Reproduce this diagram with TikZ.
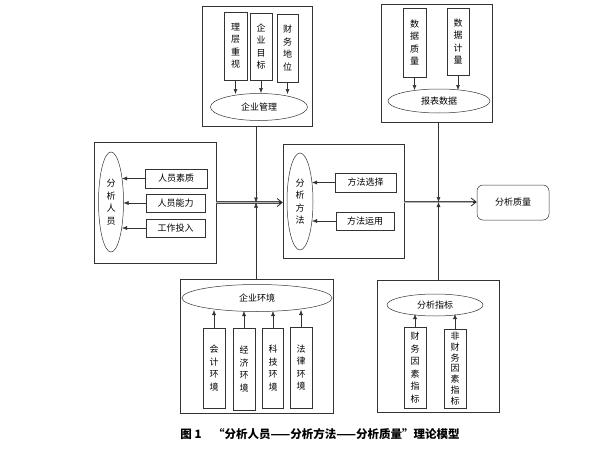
\documentclass[tikz,border=0pt]{standalone}
\usepackage{fontspec}
\setmainfont{Noto Sans CJK SC}
\usetikzlibrary{shapes.geometric,arrows.meta}
\begin{document}
\begin{tikzpicture}[x=1pt,y=-1pt,
  every node/.style={font=\fontsize{9}{12.5}\selectfont},
  outer/.style={draw=black!80,line width=0.5pt,rectangle,inner sep=0pt},
  sbox/.style={draw=black!80,line width=0.5pt,rectangle,inner sep=0pt,align=center},
  ell/.style={draw=black!80,line width=0.5pt,ellipse,inner sep=0pt,align=center},
  arr/.style={draw=black!80,line width=0.5pt,-{Latex[length=5pt,width=4pt]}},
  dblbody/.style={draw=black!70,line width=2.2pt,shorten >=1.5pt},
  dblcore/.style={draw=black!30,line width=0.7pt,shorten >=3pt},
  dbltip/.style={draw=black!85,line width=0.8pt,-{Straight Barb[length=5pt,width=8pt]}},
]
\useasboundingbox (0,0) rectangle (597,463);

% top-left group
\node[outer,minimum width=110pt,minimum height=120pt] (mgmtbox) at (257,66) {};
\node[sbox,minimum width=23pt,minimum height=68pt] (lc) at (235.5,46) {理\\层\\重\\视};
\node[sbox,minimum width=22pt,minimum height=67pt] (qm) at (261,46.5) {企\\业\\目\\标};
\node[sbox,minimum width=21pt,minimum height=68pt] (cw) at (287.5,48) {财\\务\\地\\位};
\node[ell,minimum width=97pt,minimum height=27pt] (mgmt) at (259,107) {企业管理};
\draw[arr] (lc.south) -- (lc.south |- 0,94);
\draw[arr] (qm.south) -- (qm.south |- 0,93);
\draw[arr] (cw.south) -- (cw.south |- 0,94);

% top-right group
\node[outer,minimum width=111pt,minimum height=118pt] (repbox) at (436.5,63) {};
\node[sbox,minimum width=23pt,minimum height=69pt] (sjzl) at (414.5,42.5) {数\\据\\质\\量};
\node[sbox,minimum width=22pt,minimum height=67pt] (sjjl) at (458,41.5) {数\\据\\计\\量};
\node[ell,minimum width=102pt,minimum height=24pt] (rep) at (439,101) {报表数据};
\draw[arr] (sjzl.south) -- (sjzl.south |- 0,90);
\draw[arr] (sjjl.south) -- (sjjl.south |- 0,90);

% left group
\node[outer,minimum width=122pt,minimum height=121pt] (peobox) at (155,202.5) {};
\node[ell,minimum width=25pt,minimum height=100pt] (peo) at (111,202) {分\\析\\人\\员};
\node[sbox,minimum width=62pt,minimum height=19pt] (rysz) at (176,178.5) {人员素质};
\node[sbox,minimum width=59pt,minimum height=18pt] (rynl) at (175.5,203) {人员能力};
\node[sbox,minimum width=59pt,minimum height=18pt] (gztr) at (175.5,228) {工作投入};
\draw[arr] (rysz.west) -- (rysz.west -| 122,0);
\draw[arr] (rynl.west) -- (rynl.west -| 123.5,0);
\draw[arr] (gztr.west) -- (gztr.west -| 122,0);

% middle group
\node[outer,minimum width=121pt,minimum height=114pt] (methbox) at (343.5,201) {};
\node[ell,minimum width=26pt,minimum height=97pt] (meth) at (300,201.5) {分\\析\\方\\法};
\node[sbox,minimum width=61pt,minimum height=19pt] (ffxz) at (365.5,182.5) {方法选择};
\node[sbox,minimum width=58pt,minimum height=18pt] (ffyy) at (365,221) {方法运用};
\draw[arr] (ffxz.west) -- (ffxz.west -| 312,0);
\draw[arr] (ffyy.west) -- (ffyy.west -| 312,0);

% quality
\node[draw=black!80,line width=0.5pt,rectangle,rounded corners=6pt,minimum width=72pt,minimum height=35pt,inner sep=0pt] (qual) at (513,202.5) {分析质量};

% bottom-left group
\node[outer,minimum width=153pt,minimum height=134pt] (envbox) at (256.5,346) {};
\node[ell,minimum width=150pt,minimum height=27pt] (env) at (257,298) {企业环境};
\node[sbox,minimum width=22pt,minimum height=80pt] (kj) at (214,368) {会\\计\\环\\境};
\node[sbox,minimum width=22pt,minimum height=82pt] (jj) at (244,369) {经\\济\\环\\境};
\node[sbox,minimum width=21pt,minimum height=80pt] (kjj) at (273,368) {科\\技\\环\\境};
\node[sbox,minimum width=22pt,minimum height=81pt] (fl) at (301,367.5) {法\\律\\环\\境};
\draw[arr] (kj.north) -- (kj.north |- 0,310);
\draw[arr] (jj.north) -- (jj.north |- 0,311);
\draw[arr] (kjj.north) -- (kjj.north |- 0,311);
\draw[arr] (fl.north) -- (fl.north |- 0,310);

% bottom-right group
\node[outer,minimum width=122pt,minimum height=132pt] (idxbox) at (438,346) {};
\node[ell,minimum width=96pt,minimum height=22pt] (idx) at (435,305) {分析指标};
\node[sbox,minimum width=22pt,minimum height=81pt] (cwys) at (415,367.5) {财\\务\\因\\素\\指\\标};
\node[sbox,minimum width=22pt,minimum height=79pt,font=\fontsize{9}{10.8}\selectfont] (fcwys) at (455,368.5) {非\\财\\务\\因\\素\\指\\标};
\draw[arr] (cwys.north) -- (cwys.north |- 0,314);
\draw[arr] (fcwys.north) -- (fcwys.north |- 0,314);

% junctions
\coordinate (j1) at (256,202.5);
\coordinate (j2) at (438.5,202);

% main double connectors
\draw[dblbody] (peobox.east) -- (methbox.west |- peobox.east);
\draw[dblcore] (peobox.east) -- (methbox.west |- peobox.east);
\draw[dbltip] ([xshift=-4pt]methbox.west |- peobox.east) -- (methbox.west |- peobox.east);
\draw[dblbody] (methbox.east |- j2) -- (qual.west |- j2);
\draw[dblcore] (methbox.east |- j2) -- (qual.west |- j2);
\draw[dbltip] ([xshift=-4pt]qual.west |- j2) -- (qual.west |- j2);

% vertical connectors
\draw[arr] (mgmtbox.south -| j1) -- (j1);
\draw[arr] (envbox.north -| j1) -- (j1);
\draw[arr] (repbox.south -| j2) -- (j2);
\draw[arr] (idxbox.north -| j2) -- (j2);

% caption
\node[font=\fontsize{11.5}{13}\selectfont\bfseries] (cap) at (320,434) {图 1\quad “分析人员——分析方法——分析质量”理论模型};
\end{tikzpicture}
\end{document}
